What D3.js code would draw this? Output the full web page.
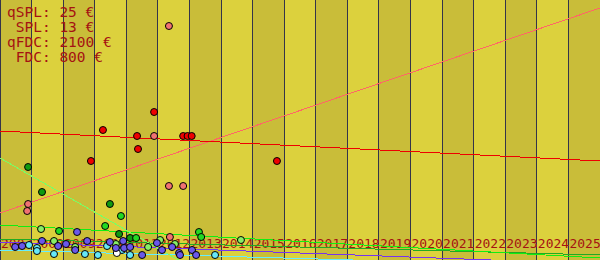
<!DOCTYPE html>
<html>
<head>
<meta charset="utf-8">
<script src="https://cdn.jsdelivr.net/npm/d3@7"></script>
<style>
  body { margin: 0; background: #ffffff; }
  .line { fill: none; stroke-width: 1px; shape-rendering: crispEdges; }
  .legend text { font-family: "DejaVu Sans Mono", monospace; font-size: 14.5px; fill: #a51212; white-space: pre; }
  .year text { font-family: "DejaVu Sans Mono", monospace; font-size: 13px; fill: #a51212; }
</style>
</head>
<body>
<script>
// years shown as stripes
var years = d3.range(2007, 2026);

// legend lines
var legendLines = ["qSPL: 25 €", " SPL: 13 €", "qFDC: 2100 €", " FDC: 800 €"];

// points: [year, value]
var redPts = [[2011.88, 148], [2010.26, 130], [2011.34, 124], [2012.80, 124], [2012.94, 124],
    [2013.07, 124], [2011.37, 111], [2009.88, 99], [2015.77, 99]];
var pinkPts = [[2012.35, 234], [2011.88, 124], [2012.35, 74], [2012.80, 74], [2007.89, 56],
    [2007.86, 49], [2012.38, 23]];
var greenPts = [[2007.89, 93], [2008.33, 68], [2010.48, 56], [2010.77, 26], [2011.12, 22]];
var limePts = [[2010.83, 44], [2010.33, 34], [2008.87, 29], [2011.31, 22], [2013.30, 28], [2013.37, 23]];
var lightGreenPts = [[2008.30, 31], [2014.63, 20], [2008.71, 19], [2010.67, 16], [2011.69, 13],
    [2009.38, 13], [2012.54, 16], [2012.07, 20]];
var cyanPts = [[2007.92, 15], [2008.17, 12], [2008.17, 9], [2008.71, 6], [2009.69, 6], [2010.10, 5],
    [2010.39, 14], [2010.86, 10], [2011.12, 5], [2013.81, 5]];
var bluePts = [[2009.44, 28], [2008.33, 19], [2007.48, 13], [2007.70, 14], [2008.84, 14], [2009.09, 16],
    [2009.76, 19], [2010.48, 18], [2010.90, 19], [2010.67, 12], [2010.93, 12], [2011.12, 13],
    [2011.50, 5], [2011.97, 17], [2012.13, 10], [2012.45, 13], [2012.67, 7], [2012.70, 5],
    [2013.08, 10], [2013.21, 5], [2009.38, 10]];
var whitePts = [[2010.70, 7]];

// trend lines: value at 2007 and at 2026
var redTrend = [129, 99];
var pinkTrend = [47, 252];
var lightGreenTrend = [102, -241];
var limeTrend = [35, 2];
var greenTrend = [21, 5];
var purpleTrend = [18, -4];
var cyanTrend = [10, -7];

var width = 600, height = 260;

var x = d3.scaleLinear().domain([2007, 2026]).range([0, width]);
var y = d3.scaleLinear().domain([0, 260]).range([height, 0]);

var svg = d3.select("body").append("svg")
    .attr("width", width)
    .attr("height", height);

// stripes
svg.append("g").selectAll("rect")
    .data(years)
    .enter().append("rect")
    .attr("x", function(d) { return x(d); })
    .attr("y", 0)
    .attr("width", function(d) { return x(d + 1) - x(d); })
    .attr("height", height)
    .attr("fill", function(d, i) { return i % 2 == 0 ? "#c9bd39" : "#dcd13d"; });

// year separators
svg.append("g").selectAll("line")
    .data(years)
    .enter().append("line")
    .attr("x1", function(d) { return Math.floor(x(d)) + 0.5; })
    .attr("x2", function(d) { return Math.floor(x(d)) + 0.5; })
    .attr("y1", 0)
    .attr("y2", height)
    .attr("stroke", "#34344a")
    .attr("stroke-width", 1);

// year labels
svg.append("g").attr("class", "year").selectAll("text")
    .data(years)
    .enter().append("text")
    .attr("x", function(d) { return x(d) + 1; })
    .attr("y", 248)
    .text(function(d) { return d; });

// legend
svg.append("g").attr("class", "legend").selectAll("text")
    .data(legendLines)
    .enter().append("text")
    .attr("x", 7)
    .attr("y", function(d, i) { return 17 + i * 15; })
    .text(function(d) { return d; });

// trend lines
var trends = [
    [greenTrend, "#22aa22"],
    [cyanTrend, "#66eeff"],
    [purpleTrend, "#7733ee"],
    [limeTrend, "#11ee11"],
    [lightGreenTrend, "#77ff66"],
    [pinkTrend, "#ff6666"],
    [redTrend, "#ee0000"]
];
var trendLine = d3.line()
    .x(function(d) { return x(d[0]); })
    .y(function(d) { return y(d[1]); });
trends.forEach(function(t) {
    svg.append("path")
        .data([[[2007, t[0][0]], [2026, t[0][1]]]])
        .attr("class", "line")
        .attr("d", trendLine)
        .style("stroke", t[1]);
});

// points
var series = [
    [cyanPts, "#66e8f8"],
    [whitePts, "#ffffff"],
    [lightGreenPts, "#88ee66"],
    [greenPts, "#109a10"],
    [limePts, "#22d822"],
    [bluePts, "#6a58ea"],
    [pinkPts, "#f07272"],
    [redPts, "#ee0000"]
];
series.forEach(function(s) {
    svg.append("g").selectAll("circle")
        .data(s[0])
        .enter().append("circle")
        .attr("cx", function(d) { return x(d[0]); })
        .attr("cy", function(d) { return y(d[1]); })
        .attr("r", 3.5)
        .attr("fill", s[1])
        .attr("stroke", "#000000")
        .attr("stroke-width", 1);
});
</script>
</body>
</html>
